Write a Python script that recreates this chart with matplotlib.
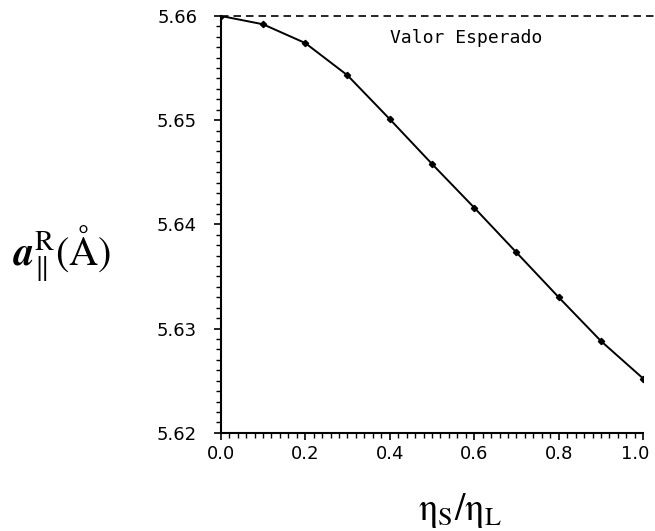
import matplotlib
matplotlib.use("Agg")
import matplotlib.pyplot as plt
import matplotlib.transforms as mtransforms
from matplotlib.ticker import MultipleLocator

# razón de viscosidades y parámetro de red relajado
eta_ratio = [0.0, 0.1, 0.2, 0.3, 0.4, 0.5, 0.6, 0.7, 0.8, 0.9, 1.0]
a_par = [5.6600, 5.6592, 5.6574, 5.6543, 5.6501, 5.6458, 5.6416, 5.6373, 5.6330, 5.6288, 5.6252]
a_esperado = 5.66

x_ticks = [0.0, 0.2, 0.4, 0.6, 0.8, 1.0]
y_ticks = [5.62, 5.63, 5.64, 5.65, 5.66]

plt.rcParams['mathtext.fontset'] = 'stix'

fig = plt.figure(figsize=(6.55, 5.31), dpi=100)
ax = fig.add_axes([0.337, 0.185, 0.645, 0.785])

ax.plot(eta_ratio, a_par, color='black', linewidth=1.4, marker='D', markersize=3.2)

# valor esperado (línea discontinua hasta el borde derecho)
ax.plot([0.0, 1.03], [a_esperado, a_esperado], color='black', linestyle=(0, (4.5, 3)),
        linewidth=1.2, clip_on=False)
ax.text(0.40, 5.6579, 'Valor Esperado', fontsize=13, ha='left', va='center',
        family='DejaVu Sans Mono')

ax.set_xlim(0.0, 1.0)
ax.set_ylim(5.62, 5.66)
ax.set_xticks(x_ticks)
ax.set_yticks(y_ticks)
ax.set_xticklabels([f'{v:.1f}' for v in x_ticks])
ax.set_yticklabels([f'{v:.2f}' for v in y_ticks])
ax.xaxis.set_minor_locator(MultipleLocator(0.02))
ax.yaxis.set_minor_locator(MultipleLocator(0.001))

for s in ['top', 'right']:
    ax.spines[s].set_visible(False)
for s in ['left', 'bottom']:
    ax.spines[s].set_linewidth(1.5)

ax.tick_params(which='major', direction='out', length=5, width=1.2, labelsize=13)
ax.tick_params(which='minor', direction='out', length=3.5, width=1.0)
ax.tick_params(axis='y', which='major', pad=12)
ax.tick_params(axis='x', which='major', pad=4)

# la última etiqueta del eje x se corre un poco para que no se corte
last = ax.get_xticklabels()[-1]
last.set_transform(last.get_transform() +
                   mtransforms.ScaledTranslation(-6 / 72, 0, fig.dpi_scale_trans))

ax.set_xlabel(r'$\mathrm{\eta_S/\eta_L}$', fontsize=27)
ax.xaxis.set_label_coords(0.567, -0.14)
ax.set_ylabel(r'$\boldsymbol{a}_{\|}^{\mathrm{R}}(\mathrm{\AA})$', fontsize=29,
              rotation=0, ha='center', va='center')
ax.yaxis.set_label_coords(-0.375, 0.43)

fig.savefig('out.png', dpi=100)
